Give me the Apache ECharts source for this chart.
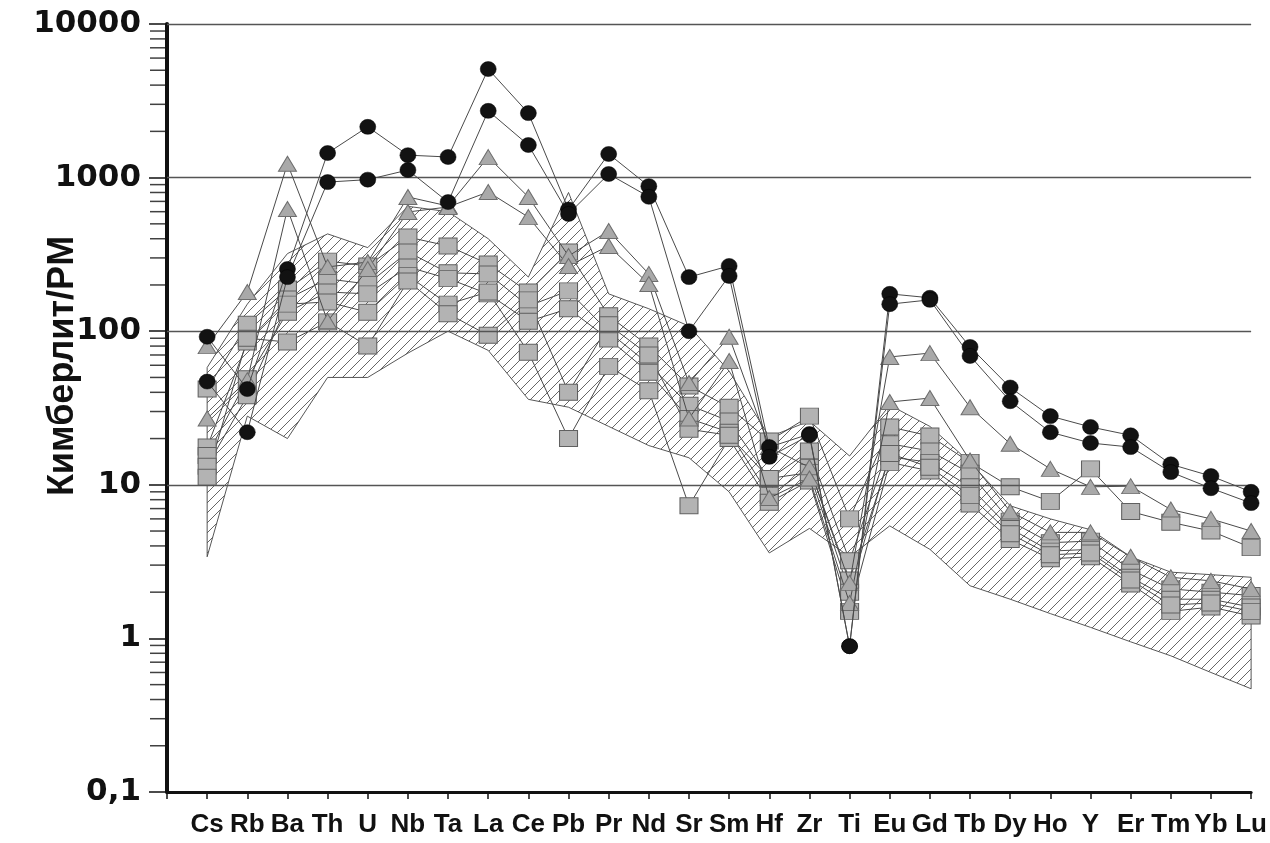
<!DOCTYPE html>
<html>
<head>
<meta charset="utf-8">
<script src="https://cdn.jsdelivr.net/npm/echarts@6/dist/echarts.min.js"></script>
<style>
  html, body { margin: 0; padding: 0; background: #fff; }
  #chart { width: 1270px; height: 843px; }
</style>
</head>
<body>
<div id="chart"></div>
<script>
// Elements on the x axis (primitive-mantle normalised spider diagram)
const elements = ['Cs','Rb','Ba','Th','U','Nb','Ta','La','Ce','Pb','Pr','Nd','Sr','Sm','Hf','Zr','Ti','Eu','Gd','Tb','Dy','Ho','Y','Er','Tm','Yb','Lu'];

// Decade labels of the log axis
const yTickLabels = { 0.1: '0,1', 1: '1', 10: '10', 100: '100', 1000: '1000', 10000: '10000' };
const gridValues = [10, 100, 1000, 10000];
const decades = [0.1, 1, 10, 100, 1000];
const minorMultipliers = [2, 3, 4, 5, 6, 7, 8, 9];

// Hatched field: upper and lower envelopes
const fieldUpper = [58, 150, 320, 430, 350, 650, 600, 400, 225, 800, 175, 140, 108, 55, 20.5, 26, 15.4, 33, 24, 14, 7.3, 6.0, 5.1, 3.4, 2.7, 2.6, 2.5];
const fieldLower = [3.4, 28, 20, 50, 50, 72, 100, 75, 36, 32, 24, 18, 15, 9, 3.6, 5.2, 3.4, 5.4, 3.8, 2.2, 1.8, 1.45, 1.18, 0.95, 0.77, 0.6, 0.47];

// Kimberlite samples, black circles
const circleA = [92, 42, 254, 1445, 2140, 1400, 1362, 5090, 2630, 620, 1425, 880, 225, 266, 17.6, 21.4, 0.89, 175, 165, 79, 43, 28, 23.8, 21, 13.6, 11.4, 9];
const circleB = [47, 22, 225, 935, 970, 1120, 693, 2720, 1630, 580, 1055, 750, 100, 229, 15.2, 21, 0.89, 150, 160, 69, 35, 22, 18.7, 17.6, 12.1, 9.5, 7.6];

// Kimberlite samples, grey triangles
const triangleA = [80, 180, 1230, 262, 282, 748, 653, 1360, 748, 309, 449, 236, 46, 92, 17.6, 13, 2.3, 68, 72, 32, 18.5, 12.7, 9.7, 9.8, 6.9, 6.0, 5.0];
const triangleB = [27, 48, 625, 116, 254, 597, 644, 806, 553, 266, 359, 203, 27, 64, 8.2, 11, 1.7, 34.6, 36.7, 14.4, 6.7, 4.9, 4.9, 3.4, 2.5, 2.37, 2.1];

// Kimberlite samples, grey squares
const squareA = [42, 111, 188, 286, 266, 410, 359, 274, 180, 328, 126, 80, 44, 32, 19.3, 28, 6.0, 23.8, 20.8, 14, 9.7, 7.8, 12.7, 6.7, 5.7, 5.0, 3.9];
const squareB = [17.6, 85, 162, 219, 203, 328, 240, 236, 146, 183, 99, 61, 33, 26, 10.9, 16.6, 3.2, 18.5, 16.6, 11.9, 5.8, 4.2, 4.3, 2.8, 2.1, 2.0, 1.9];
const squareC = [15.5, 49, 133, 180, 175, 262, 220, 175, 116, 140, 89, 54, 27, 22, 8.5, 13, 2.4, 15.2, 14, 9.7, 5.2, 3.7, 3.8, 2.5, 1.8, 1.8, 1.6];
const squareD = [13.2, 38, 150, 155, 133, 230, 150, 180, 73, 20, 59, 41, 7.3, 20, 7.7, 10.6, 1.5, 14, 12.3, 7.5, 4.4, 3.3, 3.4, 2.26, 1.5, 1.6, 1.4];
const squareE = [11.2, 90, 85, 115, 80, 212, 130, 94, 160, 40, 110, 70, 23, 21, 11, 12, 2.0, 16, 13, 8.5, 4.8, 3.5, 3.6, 2.4, 1.65, 1.7, 1.5];

const toPoints = arr => arr.map((v, i) => [i, v]);

// Diagonal hatch tile for the field
function makeHatch() {
  const s = 10;
  const c = document.createElement('canvas');
  c.width = s; c.height = s;
  const g = c.getContext('2d');
  g.strokeStyle = '#555';
  g.lineWidth = 0.9;
  g.beginPath();
  g.moveTo(0, s); g.lineTo(s, 0);
  g.moveTo(-1, 1); g.lineTo(1, -1);
  g.moveTo(s - 1, s + 1); g.lineTo(s + 1, s - 1);
  g.stroke();
  return c;
}
const hatch = makeHatch();

const minorTicks = [];
decades.forEach(d => minorMultipliers.forEach(m => minorTicks.push([-1, m * d])));

const lineStyle = { color: '#4a4a4a', width: 1 };

function sampleSeries(name, data, kind) {
  const base = {
    name, type: 'line', data: toPoints(data),
    lineStyle, showSymbol: true, silent: true, animation: false
  };
  if (kind === 'circle') {
    return Object.assign(base, { symbol: 'circle', symbolSize: [16, 15], z: 6,
      itemStyle: { color: '#121212', borderColor: '#000', borderWidth: 0.5 } });
  }
  if (kind === 'triangle') {
    return Object.assign(base, { symbol: 'triangle', symbolSize: [18, 15], z: 5,
      itemStyle: { color: '#a9a9a9', borderColor: '#6e6e6e', borderWidth: 1 } });
  }
  return Object.assign(base, { symbol: 'rect', symbolSize: [18, 16], z: 4,
    itemStyle: { color: '#b3b3b3', borderColor: '#606060', borderWidth: 1 } });
}

const chart = echarts.init(document.getElementById('chart'), null, { renderer: 'canvas' });

chart.setOption({
  backgroundColor: '#fff',
  animation: false,
  grid: { left: 167, right: 17, top: 24, bottom: 51, containLabel: false },
  xAxis: {
    type: 'value', min: -1, max: elements.length - 1, interval: 1,
    axisLine: { show: true, onZero: false, lineStyle: { color: '#111', width: 3 } },
    axisTick: { show: true, length: 7, inside: false, lineStyle: { color: '#111', width: 1.5 } },
    splitLine: { show: false },
    axisLabel: {
      margin: 20,
      color: '#111',
      fontFamily: '"Liberation Sans", Arial, sans-serif',
      fontWeight: 'bold',
      fontSize: 26,
      formatter: v => (v >= 0 && elements[v] !== undefined) ? elements[v] : ''
    }
  },
  yAxis: {
    type: 'log', logBase: 10, min: 0.1, max: 10000,
    axisLine: { show: true, onZero: false, lineStyle: { color: '#111', width: 4 } },
    axisTick: { show: true, length: 18, inside: false, lineStyle: { color: '#111', width: 1.5 } },
    minorTick: { show: false },
    splitLine: { show: false },
    axisLabel: {
      margin: 26,
      color: '#111',
      fontFamily: '"DejaVu Sans", sans-serif',
      fontWeight: 'bold',
      fontSize: 31,
      formatter: v => {
        const key = Object.keys(yTickLabels).find(k => Math.abs(Math.log10(+k) - Math.log10(v)) < 1e-6);
        return key !== undefined ? yTickLabels[key] : '';
      }
    }
  },
  graphic: [{
    type: 'text',
    x: 63, y: 366,
    rotation: Math.PI / 2,
    style: {
      text: 'Кимберлит/PM',
      fill: '#111',
      font: 'bold 36px "Liberation Sans", Arial, sans-serif',
      align: 'center',
      verticalAlign: 'middle'
    }
  }],
  series: [
    {
      // minor log ticks on the y axis and horizontal reference lines
      name: 'ticks', type: 'scatter', data: minorTicks, clip: false, silent: true,
      symbol: 'rect', symbolSize: [16, 1.5], symbolOffset: [-9, 0],
      itemStyle: { color: '#111' }, z: 2,
      markLine: {
        silent: true, symbol: ['none', 'none'], label: { show: false },
        lineStyle: { color: '#555', width: 1.3, type: 'solid' },
        data: gridValues.map(v => ({ yAxis: v }))
      }
    },
    {
      name: 'field', type: 'custom', data: [[0, 1]], silent: true, z: 1,
      renderItem: (params, api) => {
        const pts = [];
        fieldUpper.forEach((v, i) => pts.push(api.coord([i, v])));
        for (let i = fieldLower.length - 1; i >= 0; i--) pts.push(api.coord([i, fieldLower[i]]));
        return {
          type: 'polygon',
          shape: { points: pts },
          style: { fill: { image: hatch, repeat: 'repeat' }, stroke: '#444', lineWidth: 0.9 }
        };
      }
    },
    sampleSeries('sq1', squareA, 'square'),
    sampleSeries('sq2', squareB, 'square'),
    sampleSeries('sq3', squareC, 'square'),
    sampleSeries('sq4', squareD, 'square'),
    sampleSeries('sq5', squareE, 'square'),
    sampleSeries('tr1', triangleA, 'triangle'),
    sampleSeries('tr2', triangleB, 'triangle'),
    sampleSeries('ci1', circleA, 'circle'),
    sampleSeries('ci2', circleB, 'circle')
  ]
});
</script>
</body>
</html>
